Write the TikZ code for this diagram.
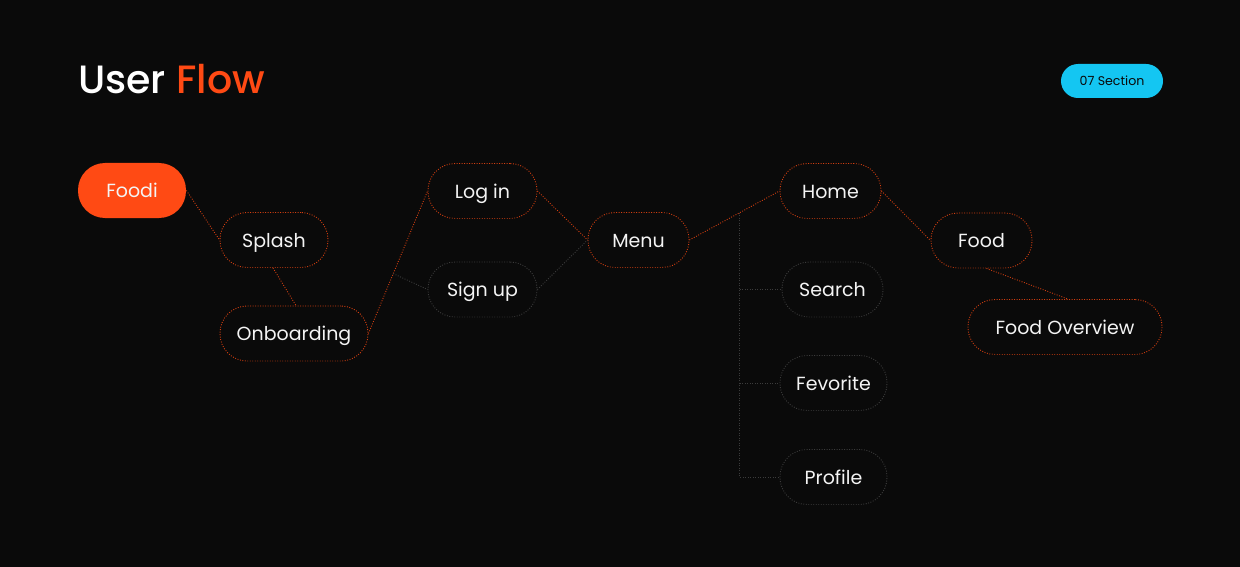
\documentclass[tikz,border=0pt]{standalone}
\usepackage{fontspec}
\setmainfont{Poppins}
\newfontfamily\titlefont{Poppins Medium}
\usetikzlibrary{calc}
\definecolor{bg}{HTML}{0A0A0A}
\definecolor{ora}{HTML}{FF4A14}
\definecolor{oline}{HTML}{D43F10}
\definecolor{gline}{HTML}{3C3C3C}
\definecolor{cyanb}{HTML}{14C6F2}
\definecolor{txt}{HTML}{F4F4F4}
\begin{document}
\begin{tikzpicture}[x=1pt,y=-1pt,
  pill/.style={rectangle, rounded corners=27pt, minimum height=55pt, inner sep=0pt,
    text=txt, font=\fontsize{19}{19}\selectfont, text height=14pt, text depth=0pt,
    line width=0.9pt, dash pattern=on 0.9pt off 1.6pt},
  onode/.style={pill, draw=oline},
  gnode/.style={pill, draw=gline},
  oconn/.style={draw=oline, line width=0.9pt, dash pattern=on 0.9pt off 1.6pt},
  gconn/.style={draw=gline, line width=0.9pt, dash pattern=on 0.9pt off 1.6pt}]
\fill[bg] (0,0) rectangle (1240,567);
\useasboundingbox (0,0) rectangle (1240,567);

\node[anchor=base west, inner sep=0pt, font=\titlefont\fontsize{39.5}{40}\selectfont, text=white] (title) at (78,94) {User \textcolor{ora}{Flow}};
\node[rectangle, rounded corners=17pt, fill=cyanb, minimum width=102pt, minimum height=34pt, inner sep=0pt, text=bg, font=\fontsize{12.6}{13}\selectfont] (sec) at (1112,81) {07 Section};

\node[pill, fill=ora, draw=none, minimum width=108pt] (foodi) at (132,190.5) {Foodi};
\node[onode, minimum width=108pt] (splash) at (274,240) {Splash};
\node[onode, minimum width=148pt] (onb) at (294,333.5) {Onboarding};
\node[onode, minimum width=109pt] (login) at (482.5,191) {Log in};
\node[gnode, minimum width=109pt] (signup) at (482.5,289.5) {Sign up};
\node[onode, minimum width=101pt] (menu) at (638.5,240) {Menu};
\node[onode, minimum width=101pt] (home) at (830.5,191) {Home};
\node[gnode, minimum width=101pt] (search) at (832.5,289.5) {Search};
\node[gnode, minimum width=107pt] (fev) at (833.5,383) {Fevorite};
\node[gnode, minimum width=107pt] (profile) at (833.5,477) {Profile};
\node[onode, minimum width=101pt] (food) at (981.5,240.5) {Food};
\node[onode, minimum width=194pt] (fov) at (1065,327) {Food Overview};

\draw[oconn] (foodi.east) -- (splash.west);
\draw[oconn] ($(splash.south)+(-1,0)$) -- ($(onb.north)+(2,0)$);
\draw[oconn] (onb.east) -- (login.west);
\coordinate (j1) at ($(onb.east)!0.42!(login.west)$);
\draw[gconn] (j1) -- (signup.west);
\draw[oconn] (login.east) -- (menu.west);
\draw[gconn] (signup.east) -- (menu.west);
\draw[oconn] (menu.east) -- (home.west);
\coordinate (t0) at ($(menu.east)!0.56!(home.west)$);
\draw[gconn] (t0) |- (profile.west);
\draw[gconn] (t0 |- search.west) -- (search.west);
\draw[gconn] (t0 |- fev.west) -- (fev.west);
\draw[oconn] (home.east) -- (food.west);
\draw[oconn] ($(food.south)+(5,0)$) -- ($(fov.north)+(3,0)$);
\end{tikzpicture}
\end{document}
